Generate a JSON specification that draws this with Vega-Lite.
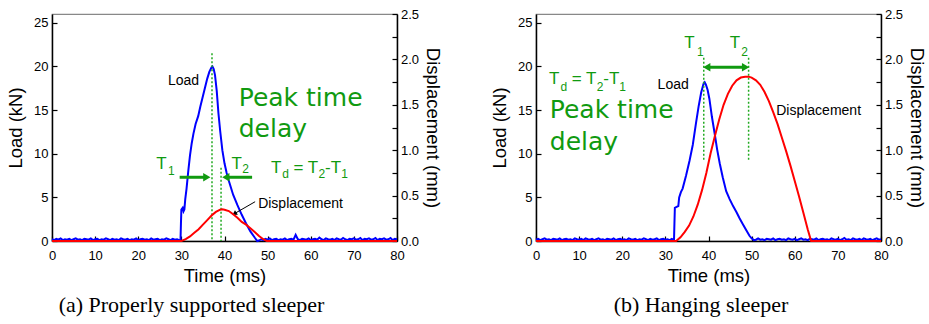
{
"$schema":"https://vega.github.io/schema/vega-lite/v6.json",
"padding":{"left":5,"top":7,"right":0,"bottom":2},
"spacing":46,
"config":{
 "view":{"stroke":"#888","strokeWidth":1.2},
 "font":"Liberation Sans"
},
"hconcat":[
{
 "width":345,"height":227,
 "title":{"text":"(a) Properly supported sleeper","orient":"bottom","frame":"group","anchor":"middle","dx":-33,"offset":10,"font":"Liberation Serif","fontSize":22,"fontWeight":"normal","color":"#000"},
 "resolve":{"scale":{"y":"independent"}},
 "layer":[
  {"layer":[
   {"data":{"values":[
{"t":0,"v":0.2},{"t":0.5,"v":0.1},{"t":1,"v":0.25},{"t":1.5,"v":0.15},{"t":2,"v":0.3},{"t":2.5,"v":0.1},{"t":3,"v":0.2},{"t":3.5,"v":0.15},{"t":4,"v":0.25},{"t":4.5,"v":0.1},{"t":5,"v":0.2},{"t":5.5,"v":0.3},{"t":6,"v":0.15},{"t":6.5,"v":0.2},{"t":7,"v":0.1},{"t":7.5,"v":0.25},{"t":8,"v":0.2},{"t":8.5,"v":0.15},{"t":9,"v":0.3},{"t":9.5,"v":0.1},{"t":10,"v":0.2},{"t":10.5,"v":0.25},{"t":11,"v":0.1},{"t":11.5,"v":0.2},{"t":12,"v":0.15},{"t":12.5,"v":0.3},{"t":13,"v":0.2},{"t":13.5,"v":0.1},{"t":14,"v":0.25},{"t":14.5,"v":0.15},{"t":15,"v":0.2},{"t":15.5,"v":0.1},{"t":16,"v":0.3},{"t":16.5,"v":0.2},{"t":17,"v":0.15},{"t":17.5,"v":0.25},{"t":18,"v":0.1},{"t":18.5,"v":0.2},{"t":19,"v":0.15},{"t":19.5,"v":0.3},{"t":20,"v":0.1},{"t":20.5,"v":0.2},{"t":21,"v":0.25},{"t":21.5,"v":0.15},{"t":22,"v":0.2},{"t":22.5,"v":0.1},{"t":23,"v":0.3},{"t":23.5,"v":0.15},{"t":24,"v":0.2},{"t":24.5,"v":0.25},{"t":25,"v":0.1},{"t":25.5,"v":0.2},{"t":26,"v":0.15},{"t":26.5,"v":0.3},{"t":27,"v":0.2},{"t":27.5,"v":0.1},{"t":28,"v":0.25},{"t":28.5,"v":0.15},{"t":29,"v":0.2},{"t":29.5,"v":0.1},
{"t":29.8,"v":0.1},{"t":29.9,"v":2.0},{"t":30.0,"v":3.6},{"t":30.3,"v":3.8},{"t":30.5,"v":3.4},{"t":30.7,"v":3.6},{"t":30.9,"v":4.8},{"t":31.2,"v":6.0},{"t":31.6,"v":8.0},{"t":32.0,"v":9.8},{"t":32.4,"v":11.2},{"t":32.8,"v":12.3},{"t":33.3,"v":13.4},{"t":33.9,"v":14.3},{"t":34.4,"v":15.4},{"t":35.0,"v":16.6},{"t":35.5,"v":17.6},{"t":36.0,"v":18.6},{"t":36.5,"v":19.4},{"t":37.0,"v":19.9},{"t":37.2,"v":20.0},{"t":37.5,"v":19.7},{"t":37.8,"v":19.0},{"t":38.2,"v":17.2},{"t":38.6,"v":14.6},{"t":39.0,"v":12.6},{"t":39.5,"v":10.4},{"t":40.0,"v":8.9},{"t":40.5,"v":7.8},{"t":41.0,"v":6.9},{"t":42.0,"v":5.3},{"t":43.0,"v":4.1},{"t":44.0,"v":3.0},{"t":45.0,"v":2.0},{"t":46.0,"v":1.1},{"t":47.0,"v":0.4},{"t":47.6,"v":0.0},
{"t":48,"v":0.05},{"t":48.5,"v":0.2},{"t":49,"v":0.1},{"t":49.5,"v":0.25},{"t":50,"v":0.15},{"t":50.5,"v":0.3},{"t":51,"v":0.1},{"t":51.5,"v":0.2},{"t":52,"v":0.25},{"t":52.5,"v":0.1},{"t":53,"v":0.2},{"t":53.5,"v":0.15},{"t":54,"v":0.3},{"t":54.5,"v":0.1},{"t":55,"v":0.2},{"t":55.5,"v":0.25},{"t":56,"v":0.15},{"t":56.5,"v":0.7},{"t":57,"v":0.2},{"t":57.5,"v":0.1},{"t":58,"v":0.25},{"t":58.5,"v":0.2},{"t":59,"v":0.15},{"t":59.5,"v":0.3},{"t":60,"v":0.1},{"t":60.5,"v":0.2},{"t":61,"v":0.25},{"t":61.5,"v":0.15},{"t":62,"v":0.4},{"t":62.5,"v":0.2},{"t":63,"v":0.1},{"t":63.5,"v":0.3},{"t":64,"v":0.2},{"t":64.5,"v":0.15},{"t":65,"v":0.25},{"t":65.5,"v":0.1},{"t":66,"v":0.3},{"t":66.5,"v":0.2},{"t":67,"v":0.15},{"t":67.5,"v":0.35},{"t":68,"v":0.2},{"t":68.5,"v":0.1},{"t":69,"v":0.25},{"t":69.5,"v":0.2},{"t":70,"v":0.3},{"t":70.5,"v":0.15},{"t":71,"v":0.2},{"t":71.5,"v":0.35},{"t":72,"v":0.1},{"t":72.5,"v":0.25},{"t":73,"v":0.2},{"t":73.5,"v":0.3},{"t":74,"v":0.15},{"t":74.5,"v":0.2},{"t":75,"v":0.35},{"t":75.5,"v":0.1},{"t":76,"v":0.25},{"t":76.5,"v":0.2},{"t":77,"v":0.3},{"t":77.5,"v":0.15},{"t":78,"v":0.2},{"t":78.5,"v":0.35},{"t":79,"v":0.1},{"t":79.5,"v":0.25},{"t":80,"v":0.2}
   ]},
    "mark":{"type":"line","color":"#0000ff","strokeWidth":2},
    "encoding":{
     "x":{"field":"t","type":"quantitative","scale":{"domain":[0,80]},"axis":{"title":"Time (ms)","values":[0,5,10,15,20,25,30,35,40,45,50,55,60,65,70,75,80],"labelExpr":"datum.value % 10 == 0 ? datum.label : ''","grid":false,"domainColor":"#000","domainWidth":1.5,"tickColor":"#000","tickWidth":1.2,"tickSize":-5,"labelPadding":13,"labelFont":"Liberation Sans","labelFontSize":13,"labelColor":"#000","labelFlush":false,"labelOverlap":false,"titleFont":"Liberation Sans","titleFontSize":18.5,"titleFontWeight":"normal","titleColor":"#000","titlePadding":4}},
     "y":{"field":"v","type":"quantitative","scale":{"domain":[0,25]},"axis":{"title":"Load (kN)","orient":"left","values":[0,2.5,5,7.5,10,12.5,15,17.5,20,22.5,25],"labelExpr":"datum.value % 5 == 0 ? datum.label : ''","grid":false,"domainColor":"#000","domainWidth":1.5,"tickColor":"#000","tickWidth":1.2,"tickSize":-5,"labelPadding":9,"labelFont":"Liberation Sans","labelFontSize":13,"labelColor":"#000","labelFlush":false,"labelOverlap":false,"titleFont":"Liberation Sans","titleFontSize":18.5,"titleFontWeight":"normal","titleColor":"#000","titlePadding":8}}
    }},
   {"data":{"values":[{"t":37.1,"v":21.5,"v2":0},{"t":39.2,"v":8.4,"v2":0}]},
    "mark":{"type":"rule","color":"#22aa22","strokeWidth":1.5,"strokeDash":[2,2]},
    "encoding":{"x":{"field":"t","type":"quantitative"},"y":{"field":"v","type":"quantitative"},"y2":{"field":"v2"}}},
   {"data":{"values":[{"t":29.6,"t2":35.9,"v":7.3},{"t":40.3,"t2":46.4,"v":7.3}]},
    "mark":{"type":"rule","color":"#109a10","strokeWidth":3},
    "encoding":{"x":{"field":"t","type":"quantitative"},"x2":{"field":"t2"},"y":{"field":"v","type":"quantitative"}}},
   {"data":{"values":[{"t":35.9,"v":7.3}]},
    "mark":{"type":"point","shape":"triangle-right","filled":true,"color":"#109a10","size":70,"opacity":1},
    "encoding":{"x":{"field":"t","type":"quantitative"},"y":{"field":"v","type":"quantitative"}}},
   {"data":{"values":[{"t":40.3,"v":7.3}]},
    "mark":{"type":"point","shape":"triangle-left","filled":true,"color":"#109a10","size":70,"opacity":1},
    "encoding":{"x":{"field":"t","type":"quantitative"},"y":{"field":"v","type":"quantitative"}}},
   {"data":{"values":[{"t":24.2,"v":8.2,"text":"T"},{"t":41.6,"v":8.26,"text":"T"},{"t":50.8,"v":7.74,"text":"T"},{"t":56.0,"v":7.74,"text":"="},{"t":59.3,"v":7.74,"text":"T"},{"t":63.3,"v":7.74,"text":"-T"}]},
    "mark":{"type":"text","color":"#109a10","font":"Liberation Sans","fontSize":17,"align":"left","baseline":"alphabetic"},
    "encoding":{"x":{"field":"t","type":"quantitative"},"y":{"field":"v","type":"quantitative"},"text":{"field":"text"}}},
   {"data":{"values":[{"t":26.9,"v":7.6,"text":"1"},{"t":44.1,"v":7.74,"text":"2"},{"t":53.4,"v":7.16,"text":"d"},{"t":61.8,"v":7.16,"text":"2"},{"t":67.1,"v":7.16,"text":"1"}]},
    "mark":{"type":"text","color":"#109a10","font":"Liberation Sans","fontSize":12,"align":"left","baseline":"alphabetic"},
    "encoding":{"x":{"field":"t","type":"quantitative"},"y":{"field":"v","type":"quantitative"},"text":{"field":"text"}}},
   {"data":{"values":[{"t":43.3,"v":15.5,"text":"Peak time"},{"t":43.3,"v":11.9,"text":"delay"}]},
    "mark":{"type":"text","color":"#109a10","font":"DejaVu Sans","fontSize":25,"align":"left","baseline":"alphabetic"},
    "encoding":{"x":{"field":"t","type":"quantitative"},"y":{"field":"v","type":"quantitative"},"text":{"field":"text"}}},
   {"data":{"values":[{"t":26.9,"v":17.9,"text":"Load"},{"t":47.8,"v":3.8,"text":"Displacement"}]},
    "mark":{"type":"text","color":"#000","font":"Liberation Sans","fontSize":14,"align":"left","baseline":"alphabetic"},
    "encoding":{"x":{"field":"t","type":"quantitative"},"y":{"field":"v","type":"quantitative"},"text":{"field":"text"}}},
   {"data":{"values":[{"t":47.1,"t2":42.5,"v":4.5,"v2":3.19}]},
    "mark":{"type":"rule","color":"#000","strokeWidth":1},
    "encoding":{"x":{"field":"t","type":"quantitative"},"x2":{"field":"t2"},"y":{"field":"v","type":"quantitative"},"y2":{"field":"v2"}}},
   {"data":{"values":[{"t":42.45,"v":3.17}]},
    "mark":{"type":"point","shape":"triangle","filled":true,"color":"#000","size":30,"angle":239,"opacity":1},
    "encoding":{"x":{"field":"t","type":"quantitative"},"y":{"field":"v","type":"quantitative"}}}
  ]},
  {"data":{"values":[{"t":0,"v":0},{"t":30,"v":0},{"t":31,"v":0.02},{"t":32,"v":0.05},{"t":33,"v":0.09},{"t":34,"v":0.13},{"t":35,"v":0.18},{"t":36,"v":0.23},{"t":37,"v":0.28},{"t":38,"v":0.32},{"t":39,"v":0.345},{"t":39.5,"v":0.35},{"t":40,"v":0.345},{"t":41,"v":0.33},{"t":42,"v":0.295},{"t":43,"v":0.255},{"t":44,"v":0.21},{"t":45,"v":0.18},{"t":46,"v":0.14},{"t":47,"v":0.10},{"t":48,"v":0.055},{"t":49,"v":0.02},{"t":49.8,"v":0},{"t":80,"v":0}]},
   "mark":{"type":"line","color":"#ff0000","strokeWidth":2},
   "encoding":{
    "x":{"field":"t","type":"quantitative"},
    "y":{"field":"v","type":"quantitative","scale":{"domain":[0,2.5]},"axis":{"title":"Displacement (mm)","orient":"right","values":[0,0.25,0.5,0.75,1,1.25,1.5,1.75,2,2.25,2.5],"format":".1f","labelExpr":"round(datum.value*100) % 50 == 0 ? datum.label : ''","grid":false,"domainColor":"#000","domainWidth":1.5,"tickColor":"#000","tickWidth":1.2,"tickSize":-5,"labelPadding":8.5,"labelFont":"Liberation Sans","labelFontSize":13,"labelColor":"#000","labelFlush":false,"labelOverlap":false,"titleFont":"Liberation Sans","titleFontSize":18.5,"titleFontWeight":"normal","titleColor":"#000","titlePadding":4}}
   }}
 ]
},
{
 "width":345,"height":227,
 "title":{"text":"(b) Hanging sleeper","orient":"bottom","frame":"group","anchor":"middle","dx":-7.5,"offset":10,"font":"Liberation Serif","fontSize":22,"fontWeight":"normal","color":"#000"},
 "resolve":{"scale":{"y":"independent"}},
 "layer":[
  {"layer":[
   {"data":{"values":[
{"t":0,"v":0.15},{"t":0.5,"v":0.25},{"t":1,"v":0.1},{"t":1.5,"v":0.2},{"t":2,"v":0.3},{"t":2.5,"v":0.15},{"t":3,"v":0.2},{"t":3.5,"v":0.1},{"t":4,"v":0.25},{"t":4.5,"v":0.2},{"t":5,"v":0.15},{"t":5.5,"v":0.3},{"t":6,"v":0.1},{"t":6.5,"v":0.2},{"t":7,"v":0.25},{"t":7.5,"v":0.15},{"t":8,"v":0.2},{"t":8.5,"v":0.1},{"t":9,"v":0.3},{"t":9.5,"v":0.2},{"t":10,"v":0.15},{"t":10.5,"v":0.25},{"t":11,"v":0.1},{"t":11.5,"v":0.3},{"t":12,"v":0.2},{"t":12.5,"v":0.15},{"t":13,"v":0.25},{"t":13.5,"v":0.1},{"t":14,"v":0.2},{"t":14.5,"v":0.3},{"t":15,"v":0.15},{"t":15.5,"v":0.2},{"t":16,"v":0.1},{"t":16.5,"v":0.25},{"t":17,"v":0.2},{"t":17.5,"v":0.15},{"t":18,"v":0.3},{"t":18.5,"v":0.1},{"t":19,"v":0.2},{"t":19.5,"v":0.25},{"t":20,"v":0.15},{"t":20.5,"v":0.2},{"t":21,"v":0.1},{"t":21.5,"v":0.3},{"t":22,"v":0.2},{"t":22.5,"v":0.15},{"t":23,"v":0.25},{"t":23.5,"v":0.1},{"t":24,"v":0.2},{"t":24.5,"v":0.15},{"t":25,"v":0.3},{"t":25.5,"v":0.2},{"t":26,"v":0.1},{"t":26.5,"v":0.25},{"t":27,"v":0.15},{"t":27.5,"v":0.2},{"t":28,"v":0.3},{"t":28.5,"v":0.1},{"t":29,"v":0.2},{"t":29.5,"v":0.25},{"t":30,"v":0.15},{"t":30.5,"v":0.2},{"t":31,"v":0.1},{"t":31.5,"v":0.25},
{"t":32.0,"v":0.1},{"t":32.1,"v":2.0},{"t":32.2,"v":3.8},{"t":32.6,"v":3.9},{"t":33.0,"v":4.0},{"t":33.2,"v":5.0},{"t":33.6,"v":5.6},{"t":34.0,"v":6.0},{"t":34.8,"v":7.5},{"t":35.6,"v":9.2},{"t":36.35,"v":11.0},{"t":37.1,"v":13.5},{"t":37.7,"v":15.4},{"t":38.3,"v":17.0},{"t":38.9,"v":18.1},{"t":39.1,"v":18.2},{"t":39.4,"v":17.9},{"t":39.8,"v":17.3},{"t":40.2,"v":16.3},{"t":40.8,"v":14.2},{"t":41.4,"v":12.4},{"t":42.0,"v":10.5},{"t":42.6,"v":8.9},{"t":43.3,"v":7.3},{"t":44.1,"v":5.7},{"t":44.9,"v":4.8},{"t":45.7,"v":4.0},{"t":46.5,"v":3.3},{"t":47.2,"v":2.6},{"t":48.0,"v":1.9},{"t":48.8,"v":1.2},{"t":49.5,"v":0.6},{"t":50.0,"v":0.3},{"t":50.5,"v":0.1},{"t":51.0,"v":0.15},
{"t":51.5,"v":0.3},{"t":52,"v":0.15},{"t":52.5,"v":0.2},{"t":53,"v":0.1},{"t":53.5,"v":0.25},{"t":54,"v":0.2},{"t":54.5,"v":0.15},{"t":55,"v":0.3},{"t":55.5,"v":0.1},{"t":56,"v":0.2},{"t":56.5,"v":0.25},{"t":57,"v":0.15},{"t":57.5,"v":0.2},{"t":58,"v":0.1},{"t":58.5,"v":0.3},{"t":59,"v":0.2},{"t":59.5,"v":0.15},{"t":60,"v":0.25},{"t":60.5,"v":0.1},{"t":61,"v":0.2},{"t":61.5,"v":0.3},{"t":62,"v":0.15},{"t":62.5,"v":0.2},{"t":63,"v":0.1},{"t":63.5,"v":0.25},{"t":64,"v":0.2},{"t":64.5,"v":0.15},{"t":65,"v":0.3},{"t":65.5,"v":0.1},{"t":66,"v":0.2},{"t":66.5,"v":0.25},{"t":67,"v":0.15},{"t":67.5,"v":0.2},{"t":68,"v":0.1},{"t":68.5,"v":0.3},{"t":69,"v":0.2},{"t":69.5,"v":0.15},{"t":70,"v":0.25},{"t":70.5,"v":0.1},{"t":71,"v":0.2},{"t":71.5,"v":0.35},{"t":72,"v":0.15},{"t":72.5,"v":0.2},{"t":73,"v":0.1},{"t":73.5,"v":0.3},{"t":74,"v":0.2},{"t":74.5,"v":0.15},{"t":75,"v":0.25},{"t":75.5,"v":0.1},{"t":76,"v":0.3},{"t":76.5,"v":0.2},{"t":77,"v":0.15},{"t":77.5,"v":0.25},{"t":78,"v":0.1},{"t":78.5,"v":0.2},{"t":79,"v":0.3},{"t":79.5,"v":0.15},{"t":80,"v":0.2}
   ]},
    "mark":{"type":"line","color":"#0000ff","strokeWidth":2},
    "encoding":{
     "x":{"field":"t","type":"quantitative","scale":{"domain":[0,80]},"axis":{"title":"Time (ms)","values":[0,5,10,15,20,25,30,35,40,45,50,55,60,65,70,75,80],"labelExpr":"datum.value % 10 == 0 ? datum.label : ''","grid":false,"domainColor":"#000","domainWidth":1.5,"tickColor":"#000","tickWidth":1.2,"tickSize":-5,"labelPadding":13,"labelFont":"Liberation Sans","labelFontSize":13,"labelColor":"#000","labelFlush":false,"labelOverlap":false,"titleFont":"Liberation Sans","titleFontSize":18.5,"titleFontWeight":"normal","titleColor":"#000","titlePadding":4}},
     "y":{"field":"v","type":"quantitative","scale":{"domain":[0,25]},"axis":{"title":"Load (kN)","orient":"left","values":[0,2.5,5,7.5,10,12.5,15,17.5,20,22.5,25],"labelExpr":"datum.value % 5 == 0 ? datum.label : ''","grid":false,"domainColor":"#000","domainWidth":1.5,"tickColor":"#000","tickWidth":1.2,"tickSize":-5,"labelPadding":9,"labelFont":"Liberation Sans","labelFontSize":13,"labelColor":"#000","labelFlush":false,"labelOverlap":false,"titleFont":"Liberation Sans","titleFontSize":18.5,"titleFontWeight":"normal","titleColor":"#000","titlePadding":8}}
    }},
   {"data":{"values":[{"t":38.9,"v":21.0,"v2":9.3},{"t":49.3,"v":21.0,"v2":9.3}]},
    "mark":{"type":"rule","color":"#22aa22","strokeWidth":1.5,"strokeDash":[2,2]},
    "encoding":{"x":{"field":"t","type":"quantitative"},"y":{"field":"v","type":"quantitative"},"y2":{"field":"v2"}}},
   {"data":{"values":[{"t":39.6,"t2":48.6,"v":19.9}]},
    "mark":{"type":"rule","color":"#109a10","strokeWidth":3},
    "encoding":{"x":{"field":"t","type":"quantitative"},"x2":{"field":"t2"},"y":{"field":"v","type":"quantitative"}}},
   {"data":{"values":[{"t":48.6,"v":19.9}]},
    "mark":{"type":"point","shape":"triangle-right","filled":true,"color":"#109a10","size":70,"opacity":1},
    "encoding":{"x":{"field":"t","type":"quantitative"},"y":{"field":"v","type":"quantitative"}}},
   {"data":{"values":[{"t":39.6,"v":19.9}]},
    "mark":{"type":"point","shape":"triangle-left","filled":true,"color":"#109a10","size":70,"opacity":1},
    "encoding":{"x":{"field":"t","type":"quantitative"},"y":{"field":"v","type":"quantitative"}}},
   {"data":{"values":[{"t":34.4,"v":22.1,"text":"T"},{"t":44.9,"v":22.1,"text":"T"},{"t":3.0,"v":18.0,"text":"T"},{"t":8.3,"v":18.0,"text":"="},{"t":11.6,"v":18.0,"text":"T"},{"t":15.6,"v":18.0,"text":"-T"}]},
    "mark":{"type":"text","color":"#109a10","font":"Liberation Sans","fontSize":17,"align":"left","baseline":"alphabetic"},
    "encoding":{"x":{"field":"t","type":"quantitative"},"y":{"field":"v","type":"quantitative"},"text":{"field":"text"}}},
   {"data":{"values":[{"t":37.35,"v":21.2,"text":"1"},{"t":47.6,"v":21.2,"text":"2"},{"t":5.7,"v":17.2,"text":"d"},{"t":14.1,"v":17.2,"text":"2"},{"t":19.3,"v":17.2,"text":"1"}]},
    "mark":{"type":"text","color":"#109a10","font":"Liberation Sans","fontSize":12,"align":"left","baseline":"alphabetic"},
    "encoding":{"x":{"field":"t","type":"quantitative"},"y":{"field":"v","type":"quantitative"},"text":{"field":"text"}}},
   {"data":{"values":[{"t":3.2,"v":14.06,"text":"Peak time"},{"t":3.2,"v":10.4,"text":"delay"}]},
    "mark":{"type":"text","color":"#109a10","font":"DejaVu Sans","fontSize":25,"align":"left","baseline":"alphabetic"},
    "encoding":{"x":{"field":"t","type":"quantitative"},"y":{"field":"v","type":"quantitative"},"text":{"field":"text"}}},
   {"data":{"values":[{"t":28.2,"v":17.4,"text":"Load"},{"t":55.7,"v":14.4,"text":"Displacement"}]},
    "mark":{"type":"text","color":"#000","font":"Liberation Sans","fontSize":14,"align":"left","baseline":"alphabetic"},
    "encoding":{"x":{"field":"t","type":"quantitative"},"y":{"field":"v","type":"quantitative"},"text":{"field":"text"}}}
  ]},
  {"data":{"values":[{"t":0,"v":0},{"t":32.5,"v":0},{"t":33.5,"v":0.04},{"t":34.5,"v":0.10},{"t":35.5,"v":0.17},{"t":36.5,"v":0.27},{"t":37.5,"v":0.40},{"t":38.5,"v":0.56},{"t":39.5,"v":0.75},{"t":40.5,"v":0.97},{"t":41.5,"v":1.16},{"t":42.5,"v":1.34},{"t":43.5,"v":1.50},{"t":44.5,"v":1.62},{"t":45.5,"v":1.71},{"t":46.5,"v":1.77},{"t":47.5,"v":1.80},{"t":48.5,"v":1.81},{"t":49.3,"v":1.81},{"t":50,"v":1.80},{"t":51,"v":1.77},{"t":52,"v":1.72},{"t":53,"v":1.64},{"t":54,"v":1.54},{"t":55,"v":1.42},{"t":56,"v":1.29},{"t":57,"v":1.14},{"t":58,"v":0.99},{"t":59,"v":0.83},{"t":60,"v":0.66},{"t":61,"v":0.49},{"t":62,"v":0.31},{"t":63,"v":0.13},{"t":63.8,"v":0},{"t":80,"v":0}]},
   "mark":{"type":"line","color":"#ff0000","strokeWidth":2},
   "encoding":{
    "x":{"field":"t","type":"quantitative"},
    "y":{"field":"v","type":"quantitative","scale":{"domain":[0,2.5]},"axis":{"title":"Displacement (mm)","orient":"right","values":[0,0.25,0.5,0.75,1,1.25,1.5,1.75,2,2.25,2.5],"format":".1f","labelExpr":"round(datum.value*100) % 50 == 0 ? datum.label : ''","grid":false,"domainColor":"#000","domainWidth":1.5,"tickColor":"#000","tickWidth":1.2,"tickSize":-5,"labelPadding":8.5,"labelFont":"Liberation Sans","labelFontSize":13,"labelColor":"#000","labelFlush":false,"labelOverlap":false,"titleFont":"Liberation Sans","titleFontSize":18.5,"titleFontWeight":"normal","titleColor":"#000","titlePadding":4}}
   }}
 ]
}
]
}
